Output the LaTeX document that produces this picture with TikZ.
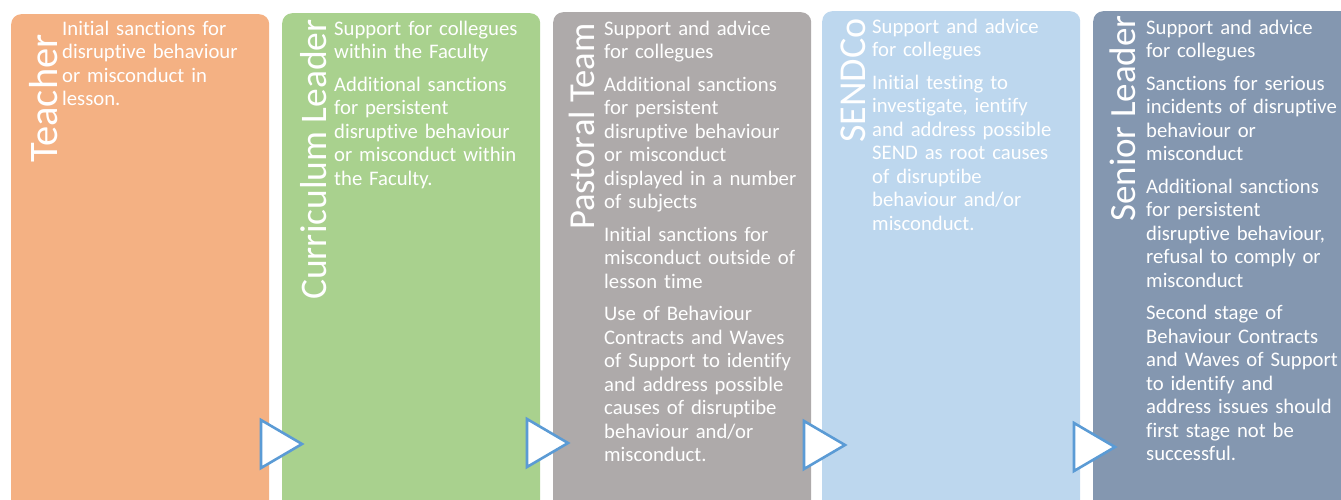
\documentclass[tikz,border=0pt]{standalone}
\usepackage{fontspec}
\setmainfont[Ligatures={NoCommon}]{Carlito}
\usetikzlibrary{positioning}
\definecolor{teachcol}{HTML}{F4B183}
\definecolor{currcol}{HTML}{A9D18E}
\definecolor{pastcol}{HTML}{AEAAAA}
\definecolor{sendcol}{HTML}{BDD7EE}
\definecolor{seniorcol}{HTML}{8497B0}
\definecolor{arrowblue}{HTML}{5B9BD5}
\tikzset{%
  stagebox/.style   = {shape=rectangle, rounded corners=10pt, anchor=north west,%
                       minimum width=258pt, minimum height=540pt, inner sep=0pt},%
  stagetitle/.style = {rotate=90, anchor=base west, inner sep=0pt, text=white,%
                       font=\fontsize{37}{37}\selectfont},%
  stagetext/.style  = {anchor=base west, inner sep=0pt, text=white, align=left,%
                       text width=200pt, font=\fontsize{20.7}{23.5}\selectfont},%
  nextarrow/.style  = {draw=arrowblue, line width=2.6pt, fill=white, line join=miter}%
}

\begin{document}
\begin{tikzpicture}[x=1pt,y=-1pt]%
	\useasboundingbox (0,0) rectangle (1341,499);%
	\clip (0,0) rectangle (1341,499);%
	% stage boxes
	\node[stagebox, fill=teachcol]  (teacher) at (11,14) {};%
	\node[stagebox, fill=currcol]   (curr)    at (282,13) {};%
	\node[stagebox, fill=pastcol]   (past)    at (553,12) {};%
	\node[stagebox, fill=sendcol]   (send)    at (822,11) {};%
	\node[stagebox, fill=seniorcol] (senior)  at (1093,11) {};%
	% titles
	\node[stagetitle, font=\fontsize{40.5}{40.5}\selectfont] (teachertitle) at (57,163) {Teacher};%
	\node[stagetitle, font=\fontsize{37.5}{37.5}\selectfont] (currtitle) at (326,300) {Curriculum Leader};%
	\node[stagetitle, font=\fontsize{36.6}{36.6}\selectfont] (pasttitle) at (594,230) {Pastoral Team};%
	\node[stagetitle, font=\fontsize{38}{38}\selectfont] (sendtitle) at (865,143) {SENDCo};%
	\node[stagetitle, font=\fontsize{37}{37}\selectfont] (seniortitle) at (1135,222) {Senior Leader};%
	% texts
	\node[stagetext] (teachertext) at (62,35) {Initial sanctions for\\
		disruptive behaviour\\ or misconduct in\\ lesson.};%
	\node[stagetext] (currtext) at (334,35) {Support for collegues\\
		within the Faculty\\[9pt] Additional sanctions\\ for persistent\\
		disruptive behaviour\\ or misconduct within\\ the Faculty.};%
	\node[stagetext] (pasttext) at (604,35) {Support and advice\\ for collegues\\[9pt]
		Additional sanctions\\ for persistent\\ disruptive behaviour\\
		or misconduct\\ displayed in a number\\ of subjects\\[9pt]
		Initial sanctions for\\ misconduct outside of\\ lesson time\\[9pt]
		Use of Behaviour\\ Contracts and Waves\\ of Support to identify\\
		and address possible\\ causes of disruptibe\\ behaviour and/or\\ misconduct.};%
	\node[stagetext] (sendtext) at (872,33) {Support and advice\\ for collegues\\[9pt]
		Initial testing to\\ investigate, ientify\\ and address possible\\
		SEND as root causes\\ of disruptibe\\ behaviour and/or\\ misconduct.};%
	\node[stagetext] (seniortext) at (1146,34) {Support and advice\\ for collegues\\[9pt]
		Sanctions for serious\\ incidents of disruptive\\ behaviour or\\ misconduct\\[9pt]
		Additional sanctions\\ for persistent\\ disruptive behaviour,\\
		refusal to comply or\\ misconduct\\[9pt]
		Second stage of\\ Behaviour Contracts\\ and Waves of Support\\
		to identify and\\ address issues should\\ first stage not be\\ successful.};%
	% arrows between stages
	\foreach \x/\y in {261/444, 527/443, 804/445, 1074/447}
		\draw[nextarrow] (\x,\y-24) -- (\x+41,\y) -- (\x,\y+24) -- cycle;%
\end{tikzpicture}
\end{document}
